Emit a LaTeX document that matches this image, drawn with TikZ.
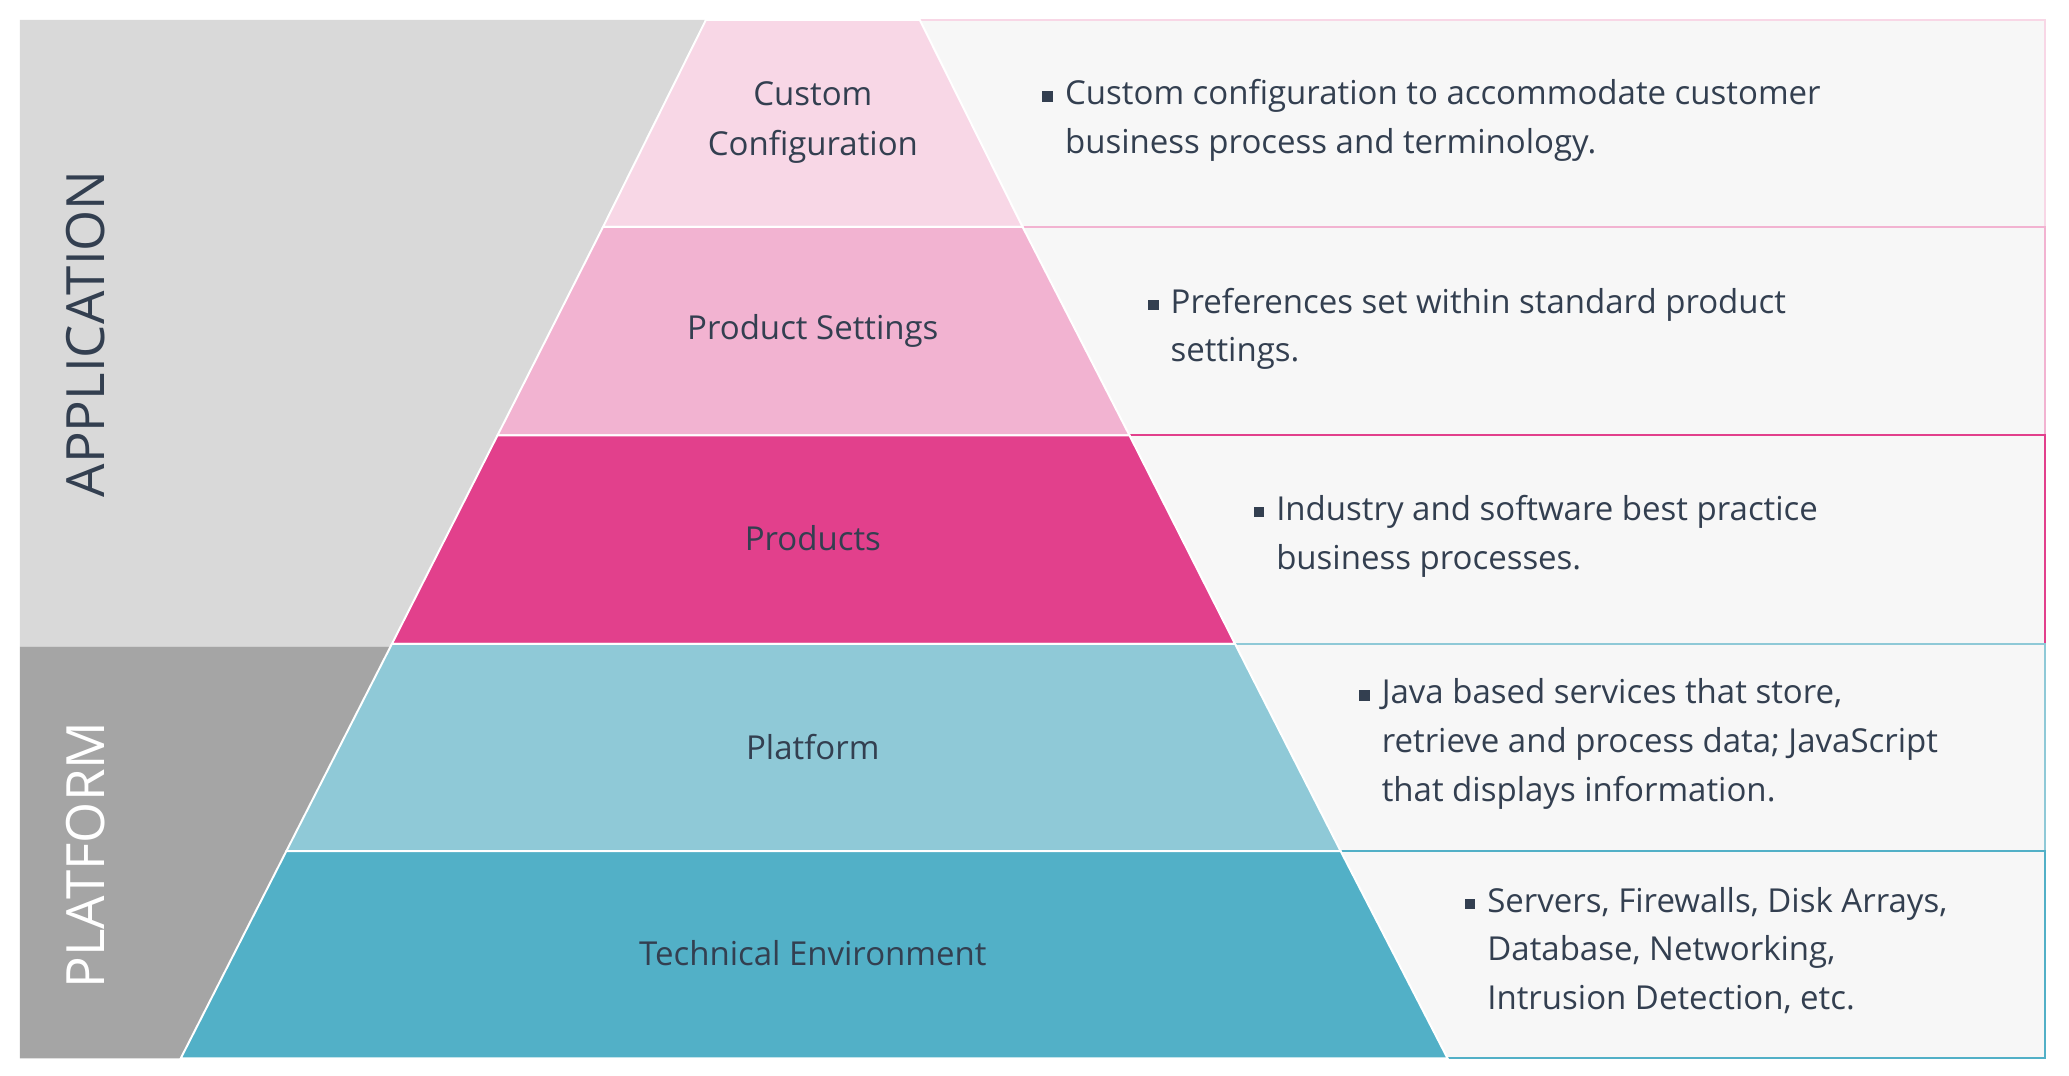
\documentclass[tikz,border=0pt]{standalone}
\usepackage{fontspec}
\setmainfont{Open Sans}
\definecolor{ink}{HTML}{333F50}
\definecolor{layA}{HTML}{F8D7E6}
\definecolor{layB}{HTML}{F2B3D1}
\definecolor{layC}{HTML}{E2408C}
\definecolor{layD}{HTML}{8FC9D7}
\definecolor{layE}{HTML}{52B0C7}
\definecolor{bandA}{HTML}{D9D9D9}
\definecolor{bandB}{HTML}{A5A5A5}
\begin{document}
\begin{tikzpicture}[x=1pt,y=-1pt,
  layer/.style={draw=white,line width=1.5pt},
  descbox/.style={fill=black!3,line width=1.5pt},
  layer label/.style={font=\fontsize{25}{38}\selectfont,text=ink,align=center},
  desc/.style={anchor=north west,inner sep=0pt,align=left,
    font=\fontsize{25}{37}\selectfont,text=ink},
  bullet/.style={fill=ink,minimum size=8pt,inner sep=0pt},
  band label/.style={font=\fontsize{40}{40}\selectfont,rotate=90}]
\useasboundingbox (0,0) rectangle (1568,815);
% side bands
\fill[bandA] (15,15) -- (535,15) -- (297,490) -- (15,490) -- cycle;
\fill[bandB] (15,490) -- (297,490) -- (137,802) -- (15,802) -- cycle;
\node[band label,text=ink] (app) at (65,253) {APPLICATION};
\node[band label,text=white] (plat) at (65,648) {PLATFORM};
% description boxes
\draw[descbox,draw=layA] (697,15) -- (1550,15) -- (1550,172) -- (775,172);
\draw[descbox,draw=layB] (775,172) -- (1550,172) -- (1550,330) -- (856,330);
\draw[descbox,draw=layC] (856,330) -- (1550,330) -- (1550,488) -- (936,488);
\draw[descbox,draw=layD] (936,488) -- (1550,488) -- (1550,645) -- (1016,645);
\draw[descbox,draw=layE] (1016,645) -- (1550,645) -- (1550,802) -- (1097,802);
% pyramid
\draw[layer,fill=layA] (535,15) -- (697,15) -- (775,172) -- (457,172) -- cycle;
\draw[layer,fill=layB] (457,172) -- (775,172) -- (856,330) -- (377,330) -- cycle;
\draw[layer,fill=layC] (377,330) -- (856,330) -- (936,488) -- (297,488) -- cycle;
\draw[layer,fill=layD] (297,488) -- (936,488) -- (1016,645) -- (217,645) -- cycle;
\draw[layer,fill=layE] (217,645) -- (1016,645) -- (1097,802) -- (137,802) -- cycle;
\node[layer label] (custom) at (616,93) {Custom\\Configuration};
\node[layer label] (settings) at (616,251) {Product Settings};
\node[layer label] (products) at (616,408) {Products};
\node[layer label] (platform) at (616,566) {Platform};
\node[layer label] (tech) at (616,722) {Technical Environment};
% descriptions
\node[bullet] (b1) at (794,73) {};
\node[desc] (d1) at (807,60) {Custom configuration to accommodate customer\\business process and terminology.};
\node[bullet] (b2) at (874,231) {};
\node[desc] (d2) at (887,218) {Preferences set within standard product\\settings.};
\node[bullet] (b3) at (954,388) {};
\node[desc] (d3) at (967,375) {Industry and software best practice\\business processes.};
\node[bullet] (b4) at (1034,527) {};
\node[desc] (d4) at (1047,514) {Java based services that store,\\retrieve and process data; JavaScript\\that displays information.};
\node[bullet] (b5) at (1114,685) {};
\node[desc] (d5) at (1127,672) {Servers, Firewalls, Disk Arrays,\\Database, Networking,\\Intrusion Detection, etc.};
\end{tikzpicture}
\end{document}
